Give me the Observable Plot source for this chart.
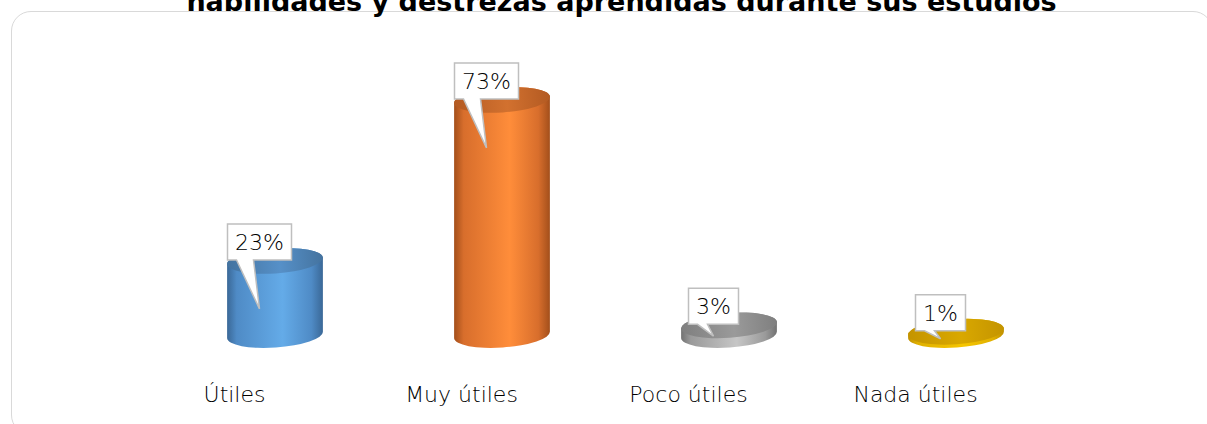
<!DOCTYPE html>
<html><head><meta charset="utf-8">
<script src="https://cdn.jsdelivr.net/npm/d3@7"></script>
<script src="https://cdn.jsdelivr.net/npm/@observablehq/plot@0.6"></script>
<style>
html,body{margin:0;padding:0;background:#fff;overflow:hidden}
#wrap{position:relative;width:1207px;height:424px;overflow:hidden}
#frame{position:absolute;left:11px;top:11px;width:1200px;height:422px;border:1.5px solid #d9d9d9;border-radius:20px;}
#chart{position:absolute;left:0;top:0}
#title{position:absolute;left:18px;width:1207px;top:-12px;text-align:center;font:bold 27px "DejaVu Sans";line-height:27px;white-space:nowrap;color:#000}
</style></head><body>
<div id="wrap"><div id="frame"></div><div id="chart"></div><div id="title">habilidades y destrezas aprendidas durante sus estudios</div></div>
<script>
const categories = ["Útiles", "Muy útiles", "Poco útiles", "Nada útiles"];
const values = [23, 73, 3, 1];
const valueLabels = ["23%", "73%", "3%", "1%"];

const palette = [
  {dark: "#3a6897", mid: "#4f8bc6", light: "#64abe8", topDark: "#44739f", topLight: "#5690c8"},
  {dark: "#a34f1b", mid: "#d86e2c", light: "#ff8d3a", topDark: "#b35a22", topLight: "#d2712f"},
  {dark: "#727272", mid: "#9a9a9a", light: "#c6c6c6", topDark: "#7f7f7f", topLight: "#9a9a9a"},
  {dark: "#c09000", mid: "#e0b000", light: "#f6c600", topDark: "#c49400", topLight: "#d9a800"}
];

const data = categories.map((c, i) => ({cat: c, value: values[i], label: valueLabels[i], i}));

const labelFont = '200 22px "DejaVu Sans"';
const measure = (() => { const ctx = document.createElement("canvas").getContext("2d"); ctx.font = labelFont; return (t) => ctx.measureText(t).width; })();

function cylinders(index, scales) {
  const {x, y} = scales;
  const g = d3.create("svg:g");
  const defs = g.append("defs");
  const rx = 48, ry = 12.5, rot = -4;
  const th = rot * Math.PI / 180;
  const ex = rx * Math.cos(th), ey = rx * Math.sin(th);
  data.forEach((d) => {
    const p = palette[d.i];
    const gb = defs.append("linearGradient").attr("id", "body" + d.i).attr("x1", 0).attr("x2", 1).attr("y1", 0).attr("y2", 0);
    [[0, p.dark], [0.1, p.mid], [0.58, p.light], [0.88, p.mid], [1, p.dark]].forEach(([o, c]) => gb.append("stop").attr("offset", o).attr("stop-color", c));
    const gt = defs.append("linearGradient").attr("id", "top" + d.i).attr("x1", 0).attr("x2", 1).attr("y1", 0).attr("y2", 0);
    [[0, p.topDark], [0.55, p.topLight], [1, p.topDark]].forEach(([o, c]) => gt.append("stop").attr("offset", o).attr("stop-color", c));
    const cx = x(d.cat), yt = y(d.value), yb = y(0);
    const path = `M${cx - ex},${yt - ey}L${cx - ex},${yb - ey}A${rx},${ry} ${rot} 0 0 ${cx + ex},${yb + ey}L${cx + ex},${yt + ey}A${rx},${ry} ${rot} 0 0 ${cx - ex},${yt - ey}Z`;
    g.append("path").attr("d", path).attr("fill", `url(#body${d.i})`);
    g.append("ellipse").attr("cx", cx).attr("cy", yt).attr("rx", rx).attr("ry", ry)
      .attr("transform", `rotate(${rot} ${cx} ${yt})`).attr("fill", `url(#top${d.i})`);
  });
  // callouts
  data.forEach((d) => {
    const cx = x(d.cat), yt = y(d.value), yb = y(0);
    const w = Math.round(measure(d.label) + 15), h = 36;
    const bc = cx - 15.5;
    const x0 = bc - w / 2, x1 = bc + w / 2;
    const y1 = yt - 1, y0 = y1 - h;
    const tipY = yt + Math.min(48, 0.6 * (yb - yt) + 5);
    const path = `M${x0},${y0}L${x1},${y0}L${x1},${y1}L${bc - 6},${y1}L${bc},${tipY}L${x0 + 9},${y1}L${x0},${y1}Z`;
    g.append("path").attr("d", path).attr("fill", "#fff").attr("stroke", "#bfbfbf").attr("stroke-width", 1.5).attr("stroke-linejoin", "miter");
    g.append("text").attr("x", bc).attr("y", (y0 + y1) / 2).attr("text-anchor", "middle").attr("dy", "0.36em")
      .attr("font-family", "DejaVu Sans").attr("font-weight", 200).attr("font-size", 22).attr("fill", "#000").text(d.label);
  });
  return g.node();
}

const chart = Plot.plot({
  width: 1207,
  height: 424,
  marginLeft: 274,
  marginRight: 251,
  marginTop: 13,
  marginBottom: 89,
  style: {background: "transparent", overflow: "visible"},
  x: {type: "point", domain: categories, padding: 0, axis: null},
  y: {domain: [0, 100], axis: null},
  marks: [
    Plot.text(data, {x: "cat", y: () => 0, text: "cat", dx: -41, dy: 59, fontSize: 22, fontWeight: 200, fontFamily: "DejaVu Sans", fill: "#000", lineAnchor: "middle"}),
    cylinders
  ]
});
document.getElementById("chart").appendChild(chart);
</script>
</body></html>
